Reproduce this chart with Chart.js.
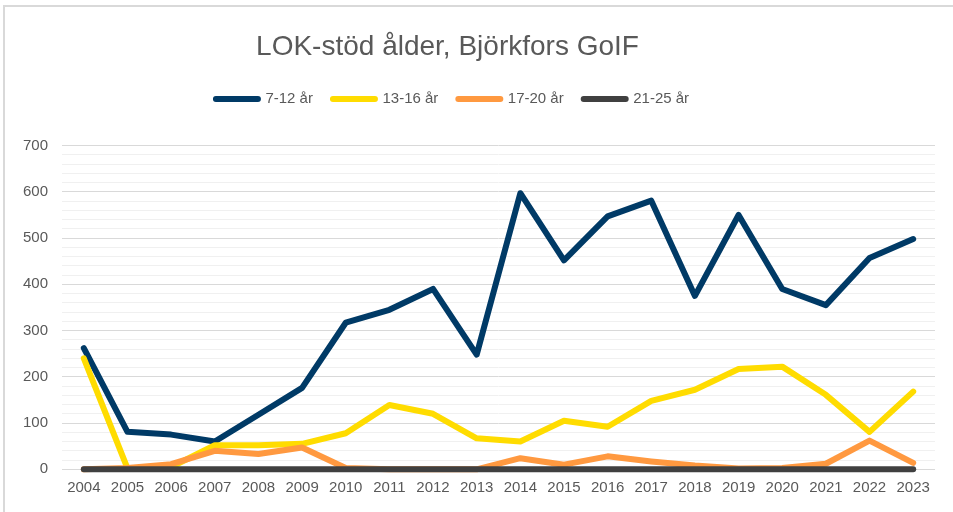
<!DOCTYPE html>
<html>
<head>
<meta charset="utf-8">
<script src="https://cdn.jsdelivr.net/npm/chart.js@4.4.1/dist/chart.umd.min.js"></script>
<style>
  html, body { margin: 0; padding: 0; background: #fff; overflow: hidden; }
  #frame { position: absolute; left: 3px; top: 5px; width: 1000px; height: 600px;
           border-top: 2px solid #d9d9d9; border-left: 2px solid #d9d9d9; }
  #wrap { position: absolute; left: 0; top: 0; width: 953px; height: 512px; }
</style>
</head>
<body>
<div id="frame"></div>
<div id="wrap"><canvas id="myChart"></canvas></div>
<script>
const years = ['2004', '2005', '2006', '2007', '2008', '2009', '2010', '2011', '2012', '2013',
  '2014', '2015', '2016', '2017', '2018', '2019', '2020', '2021', '2022', '2023'];
const ageGroups = ['7-12 år', '13-16 år', '17-20 år', '21-25 år'];
const age7to12 = [262, 81, 75, 60, 118, 176, 317, 345, 390, 248, 597, 452, 547, 581, 375, 550, 390, 355, 457, 498];
const age13to16 = [240, 2, 5, 52, 52, 55, 78, 139, 120, 67, 60, 105, 92, 148, 172, 217, 222, 161, 81, 168];
const age17to20 = [0, 3, 11, 40, 33, 47, 3, 0, 0, 0, 24, 10, 28, 17, 8, 2, 3, 12, 62, 14];
const age21to25 = [0, 0, 0, 0, 0, 0, 0, 0, 0, 0, 0, 0, 0, 0, 0, 0, 0, 0, 0, 0];
const seriesColors = ['#003a66', '#ffdc00', '#ff9940', '#404040'];

Chart.defaults.font.family = '"Liberation Sans", Arial, sans-serif';
Chart.defaults.color = '#595959';

// Excel centres the header a bit left of the canvas centre, move title + legend
const headerShift = {
  id: 'headerShift',
  afterLayout(chart) {
    const moves = [[chart.titleBlock, -20], [chart.legend, -15]];
    moves.forEach(([box, dx]) => {
      if (!box) return;
      box.left += dx; box.right += dx;
      box.top -= 29; box.bottom -= 29;
    });
  }
};

const seriesData = [age7to12, age13to16, age17to20, age21to25];

const ctx = document.getElementById('myChart').getContext('2d');
new Chart(ctx, {
  type: 'line',
  data: {
    labels: years,
    datasets: seriesData.map((values, i) => ({
      label: ageGroups[i],
      data: values,
      borderColor: seriesColors[i],
      backgroundColor: seriesColors[i],
      borderWidth: 6,
      borderCapStyle: 'round',
      borderJoinStyle: 'round',
      pointRadius: 0,
      tension: 0,
      clip: false,
      order: 3 - i
    }))
  },
  options: {
    responsive: true,
    maintainAspectRatio: false,
    animation: false,
    layout: { padding: { top: 29, left: 0, right: 18, bottom: 0 } },
    plugins: {
      title: {
        display: true,
        text: 'LOK-stöd ålder, Björkfors GoIF',
        color: '#595959',
        font: { size: 28, weight: 'normal' },
        padding: { top: 30, bottom: 8 }
      },
      legend: {
        position: 'top',
        labels: {
          boxWidth: 42,
          boxHeight: 0,
          padding: 20,
          color: '#595959',
          font: { size: 15 },
          sort: (a, b) => a.datasetIndex - b.datasetIndex
        }
      },
      tooltip: { enabled: false }
    },
    scales: {
      x: {
        offset: true,
        grid: { display: false, drawTicks: false },
        border: { display: false },
        ticks: { font: { size: 15 }, padding: 10, autoSkip: false, maxRotation: 0, color: '#595959' },
        afterFit: (scale) => { scale.height = 42.7; }
      },
      y: {
        min: 0,
        max: 700,
        grid: {
          drawTicks: false,
          color: (c) => (c.tick && c.tick.value % 100 === 0) ? '#d9d9d9' : '#f0f0f0',
          lineWidth: 1
        },
        border: { display: false },
        ticks: {
          stepSize: 20,
          autoSkip: false,
          padding: 14,
          font: { size: 15 },
          color: '#595959',
          callback: (v) => (v % 100 === 0 ? v : '')
        },
        afterFit: (scale) => { scale.width = 62; }
      }
    }
  },
  plugins: [headerShift]
});
</script>
</body>
</html>
